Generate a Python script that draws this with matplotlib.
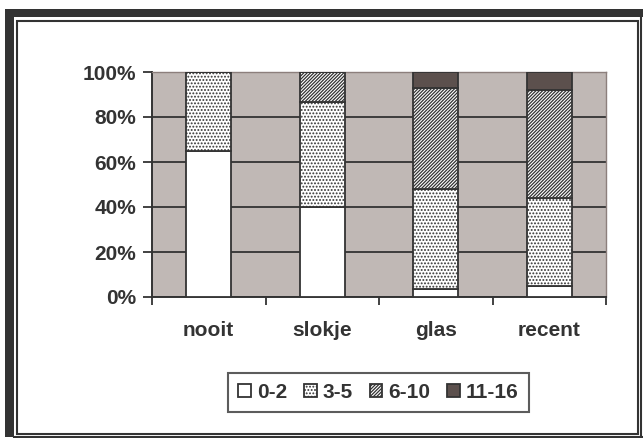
import numpy as np
import matplotlib
matplotlib.use('Agg')
import matplotlib.pyplot as plt
from matplotlib.patches import Rectangle
from matplotlib.lines import Line2D

plt.rcParams['font.family'] = ['Liberation Sans', 'DejaVu Sans']
plt.rcParams['font.weight'] = 'bold'
plt.rcParams['hatch.linewidth'] = 0.9

##### data
categories = ['nooit', 'slokje', 'glas', 'recent']
groups = ['0-2', '3-5', '6-10', '11-16']
v_0_2 = [65, 40, 3.5, 5]
v_3_5 = [35, 46.5, 44.5, 39]
v_6_10 = [0, 13.5, 45, 48]
v_11_16 = [0, 0, 7, 8]
series = [v_0_2, v_3_5, v_6_10, v_11_16]

dark = '#333333'
W, H = 643, 438
fig = plt.figure(figsize=(W / 100, H / 100), dpi=100)
fig.patch.set_facecolor('white')

#### frame around the chart (pixel coords -> figure fraction)
def fx(x):
    return x / W

def fy(y):
    return 1 - y / H

fig.patches.append(Rectangle((fx(5), fy(17)), fx(638), 8 / H, transform=fig.transFigure,
                             facecolor=dark, edgecolor='none'))
fig.patches.append(Rectangle((fx(5), fy(437)), 9 / W, 420 / H, transform=fig.transFigure,
                             facecolor=dark, edgecolor='none'))
fig.patches.append(Rectangle((fx(17), fy(434)), fx(621), 413 / H, transform=fig.transFigure,
                             facecolor='none', edgecolor=dark, linewidth=1.5))
fig.lines.append(Line2D([fx(641), fx(641)], [fy(17), fy(438)], transform=fig.transFigure,
                        color=dark, linewidth=1.5))
fig.lines.append(Line2D([fx(14), fx(642)], [fy(437), fy(437)], transform=fig.transFigure,
                        color=dark, linewidth=1.5))

################### plot area
ax = fig.add_axes([fx(152), fy(297), (606 - 152) / W, (297 - 72) / H])
ax.set_facecolor('#c0b8b5')

x = np.arange(len(categories))
styles = [dict(facecolor='white', hatch=None),
          dict(facecolor='white', hatch='.....'),
          dict(facecolor='white', hatch='//////////'),
          dict(facecolor='#5c504d', hatch=None)]
bottom = np.zeros(len(categories))
handles = []
for vals, name, st in zip(series, groups, styles):
    vals = np.array(vals)
    bars = ax.bar(x, vals, 0.4, bottom=bottom, facecolor=st['facecolor'], hatch=st['hatch'],
                  edgecolor=dark, linewidth=1.3, label=name, zorder=3)
    bottom = bottom + vals
    handles.append(bars)

ax.set_xlim(-0.5, len(categories) - 0.5)
ax.set_ylim(0, 100)
ax.set_yticks(np.arange(0, 101, 20))
ax.set_yticklabels([str(v) + '%' for v in range(0, 101, 20)])
ax.yaxis.grid(True, color=dark, linewidth=1.3, zorder=0)
ax.set_axisbelow(True)

ax.set_xticks(x)
ax.set_xticklabels(categories)
ax.set_xticks(np.arange(-0.5, len(categories)), minor=True)
ax.tick_params(axis='x', which='major', length=0, pad=17, labelsize=15, colors=dark)
ax.tick_params(axis='x', which='minor', length=5.5, width=1.3, color=dark, direction='out')
ax.tick_params(axis='y', length=6.5, width=1.3, color=dark, pad=5, labelsize=15, labelcolor=dark)

for s in ['left', 'bottom']:
    ax.spines[s].set_color(dark)
    ax.spines[s].set_linewidth(1.4)
for s in ['top', 'right']:
    ax.spines[s].set_color('#8c7f7c')
    ax.spines[s].set_linewidth(1.0)

leg = fig.legend(handles=handles, labels=groups, loc='center',
                 bbox_to_anchor=(fx(378.5), fy(392.5)), ncol=4, frameon=True,
                 fancybox=False, edgecolor=dark, fontsize=15,
                 handlelength=0.6, handleheight=0.6, handletextpad=0.3,
                 columnspacing=0.8, borderpad=0.5, borderaxespad=0)
leg.get_frame().set_linewidth(1.5)
for t in leg.get_texts():
    t.set_color(dark)

fig.savefig('out.png', dpi=100)
